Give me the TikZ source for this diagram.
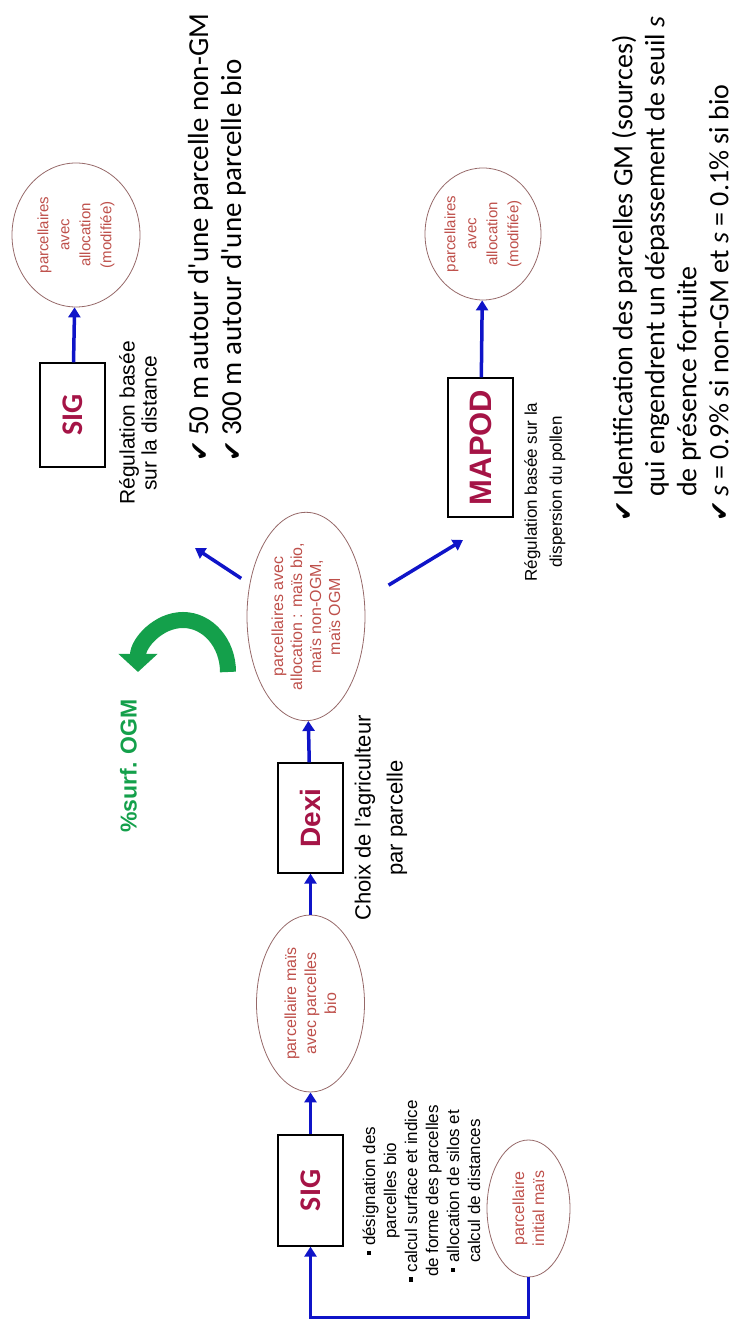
\documentclass[tikz,border=0pt]{standalone}
\usepackage{fontspec}
\setmainfont{Liberation Sans}
\newfontfamily\calfont{Carlito}
\newfontfamily\symfont{DejaVu Sans}
\usetikzlibrary{arrows.meta,shapes.geometric}
\definecolor{modred}{RGB}{165,20,70}
\definecolor{flowblue}{RGB}{15,20,200}
\definecolor{ellred}{RGB}{190,80,75}
\definecolor{ellline}{RGB}{150,105,105}
\definecolor{ogmgreen}{RGB}{20,160,75}
\newcommand{\bul}{\rule[4pt]{4.5pt}{4.5pt}\ }
\newcommand{\chk}{{\symfont\fontsize{25}{25}\selectfont ✔}}
\begin{document}
\begin{tikzpicture}[x=1pt,y=1pt,rotate=90,transform shape,
  box/.style={draw,line width=1.3pt,minimum height=65pt,inner sep=0pt,text=modred,font=\bfseries\fontsize{28}{30}\selectfont},
  parc/.style={ellipse,draw=ellline,line width=0.8pt,inner sep=0pt,align=center,text=ellred,font=\fontsize{16}{20}\selectfont},
  flow/.style={draw=flowblue,line width=3.5pt,-{Triangle[width=12pt,length=10pt]}},
  note/.style={align=center,inner sep=0pt}]
\useasboundingbox (0,0) rectangle (1326,-745);

% chaine principale
\node[parc,minimum width=137pt,minimum height=83pt] (init) at (117.5,-528.5) {parcellaire\\initial maïs};
\node[box,minimum width=111pt,font=\calfont\bfseries\fontsize{30}{30}\selectfont] (sig1) at (135.5,-310.5) {SIG};
\node[parc,minimum width=177pt,minimum height=108pt] (e1) at (322.5,-310.5) {parcellaire maïs\\avec parcelles\\bio};
\node[box,minimum width=110pt] (dexi) at (508,-310.5) {Dexi};
\node[parc,minimum width=207pt,minimum height=118pt,font=\fontsize{16}{19}\selectfont] (e2) at (709.5,-306) {parcellaires avec\\allocation : maïs bio,\\maïs non-OGM,\\maïs OGM};

% regulation par distance
\node[box,minimum width=104pt,font=\calfont\bfseries\fontsize{30}{30}\selectfont] (sig2) at (911,-72.5) {SIG};
\node[parc,minimum width=144pt,minimum height=128pt,font=\fontsize{15}{21}\selectfont] (e3) at (1091,-76) {parcellaires\\avec\\allocation\\(modifiée)};

% regulation par dispersion
\node[box,minimum width=139pt,font=\bfseries\fontsize{31}{31}\selectfont] (mapod) at (878.5,-480.5) {MAPOD};
\node[parc,minimum width=132pt,minimum height=116pt,font=\fontsize{15}{21}\selectfont] (e4) at (1092,-483) {parcellaires\\avec\\allocation\\(modifiée)};

% textes
\node[note,font=\fontsize{17}{21}\selectfont] (tsig1) at (135,-421.5) {\bul désignation des\\parcelles bio\\\bul calcul surface et indice\\de forme des parcelles\\\bul allocation de silos et\\calcul de distances};
\node[note,font=\fontsize{22}{32}\selectfont] (tdexi) at (508,-381) {Choix de l'agriculteur\\par parcelle};
\node[note,font=\fontsize{21}{22}\selectfont] (tsig2) at (903,-138) {Régulation basée\\sur la distance};
\node[note,font=\fontsize{17}{25}\selectfont] (tmapod) at (834,-545) {Régulation basée sur la\\dispersion du pollen};
\node[note,text=ogmgreen,font=\bfseries\fontsize{23}{23}\selectfont] (ogm) at (560,-128.5) {\%surf. OGM};

\node[anchor=west,inner sep=0pt,font=\calfont\fontsize{29}{33}\selectfont] (listA) at (864,-218)
  {\begin{tabular}{@{}l@{\hspace{5pt}}l@{}}\chk & 50 m autour d'une parcelle non-GM\\ \chk & 300 m autour d'une parcelle bio\end{tabular}};
\node[anchor=west,inner sep=0pt,font=\calfont\fontsize{28}{32}\selectfont] (listB) at (804,-674)
  {\begin{tabular}{@{}l@{\hspace{4pt}}l@{}}\chk & Identification des parcelles GM (sources)\\ & qui engendrent un dépassement de seuil {\itshape s}\\ & de présence fortuite\\ \chk & {\itshape s} = 0.9\% si non-GM et {\itshape s} = 0.1\% si bio\end{tabular}};

% fleches
\coordinate (upend) at (778,-195);
\coordinate (downend) at (786,-463);
\coordinate (arcstart) at (654,-228);
\draw[flow] (init.west) -- ++(-40,0) |- (sig1.west);
\draw[flow] (sig1) -- (e1);
\draw[flow] (e1) -- (dexi);
\draw[flow] (dexi) -- (e2);
\draw[flow] (sig2) -- (e3);
\draw[flow] (mapod) -- (e4);
\draw[flow,shorten <=10pt] (e2.60) -- (upend);
\draw[flow,shorten <=28pt] (e2.-74) -- (downend);
\draw[ogmgreen,line width=16pt,-{Triangle[width=38pt,length=18pt]}] (arcstart) arc[start angle=-90,end angle=90,x radius=52,y radius=45];
\end{tikzpicture}
\end{document}
